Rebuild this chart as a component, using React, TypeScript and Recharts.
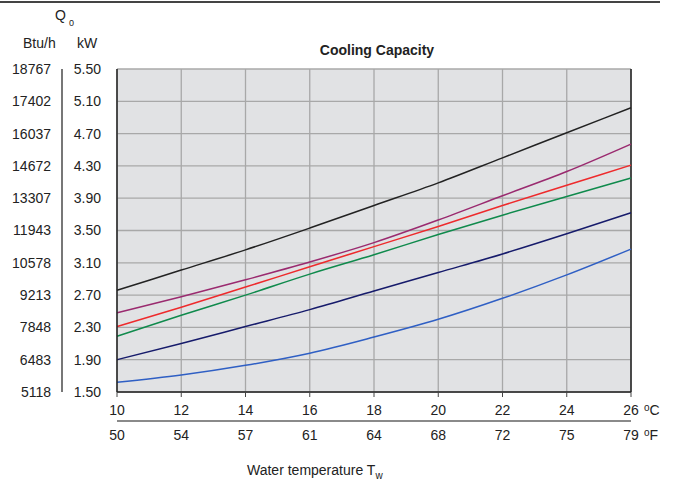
import React from "react"
import {
  LineChart,
  Line,
  XAxis,
  YAxis,
  CartesianGrid,
  ReferenceLine,
} from "recharts"

const tempC = [10, 12, 14, 16, 18, 20, 22, 24, 26]
const tempF = ["50", "54", "57", "61", "64", "68", "72", "75", "79"]
const kwTicks = [1.5, 1.9, 2.3, 2.7, 3.1, 3.5, 3.9, 4.3, 4.7, 5.1, 5.5]
const btuTicks = ["5118", "6483", "7848", "9213", "10578", "11943", "13307", "14672", "16037", "17402", "18767"]

const blackLine = [2.76, 3.01, 3.26, 3.53, 3.81, 4.09, 4.4, 4.71, 5.02]
const purpleLine = [2.48, 2.68, 2.89, 3.11, 3.35, 3.63, 3.93, 4.23, 4.57]
const redLine = [2.31, 2.55, 2.8, 3.05, 3.3, 3.55, 3.81, 4.06, 4.31]
const greenLine = [2.19, 2.45, 2.7, 2.96, 3.2, 3.45, 3.69, 3.92, 4.15]
const navyLine = [1.9, 2.1, 2.31, 2.52, 2.75, 2.98, 3.21, 3.46, 3.72]
const blueLine = [1.62, 1.71, 1.83, 1.98, 2.18, 2.4, 2.66, 2.95, 3.27]

const data = tempC.map((t, i) => ({
  t,
  black: blackLine[i],
  purple: purpleLine[i],
  red: redLine[i],
  green: greenLine[i],
  navy: navyLine[i],
  blue: blueLine[i],
}))

const series = [
  { key: "black", color: "#222222" },
  { key: "purple", color: "#9A2A6F" },
  { key: "red", color: "#EE2A2C" },
  { key: "green", color: "#0F8A4C" },
  { key: "navy", color: "#161B6B" },
  { key: "blue", color: "#2F5FC4" },
]

const font = "'Liberation Sans', Arial, sans-serif"
const tick = { fontSize: 14, fill: "#222", fontFamily: font }

const abs = (left: number, top: number): React.CSSProperties => ({
  position: "absolute",
  left,
  top,
  fontSize: 14,
  lineHeight: 1,
  whiteSpace: "nowrap",
  color: "#222",
})

function Unit({ left, top, letter }: { left: number; top: number; letter: string }) {
  return (
    <div style={abs(left, top)}>
      <span style={{ fontSize: 10, position: "relative", top: -4 }}>o</span>
      {letter}
    </div>
  )
}

function btuLabel(v: number) {
  const i = kwTicks.findIndex((k) => Math.abs(k - v) < 0.001)
  return i >= 0 ? btuTicks[i] : ""
}

// kW label next to the plot, Btu/h label in the outer column
function DualTick(props: any) {
  const { x, y, payload } = props
  const v = Number(payload.value)
  return (
    <g>
      <text x={x} y={y} dy="0.355em" textAnchor="end" {...tick}>
        {v.toFixed(2)}
      </text>
      <text x={x - 50} y={y} dy="0.355em" textAnchor="end" {...tick}>
        {btuLabel(v)}
      </text>
    </g>
  )
}

export default function App() {
  return (
    <div
      style={{
        position: "absolute",
        left: 0,
        top: 0,
        width: 675,
        height: 483,
        background: "#fff",
        fontFamily: font,
      }}
    >
      <div style={{ position: "absolute", left: 0, top: 1, width: 660, height: 2, background: "#444" }} />
      <div style={abs(55, 8)}>
        Q<span style={{ fontSize: 9, position: "relative", top: 6, marginLeft: 3 }}>0</span>
      </div>
      <div style={abs(23, 36)}>Btu/h</div>
      <div style={abs(77, 36)}>kW</div>
      <div style={{ ...abs(277, 43), width: 200, textAlign: "center", fontWeight: "bold" }}>
        Cooling Capacity
      </div>

      <LineChart
        width={675}
        height={483}
        data={data}
        margin={{ top: 69, right: 44, left: 10, bottom: 32 }}
      >
        <CartesianGrid
          xAxisId="c"
          yAxisId="kw"
          stroke="#A8A8A8"
          strokeWidth={1.3}
          fill="#E1E2E4"
        />
        <XAxis
          xAxisId="c"
          dataKey="t"
          type="number"
          domain={[10, 26]}
          ticks={tempC}
          height={29}
          tick={tick}
          tickSize={5}
          tickMargin={8}
          tickLine={{ stroke: "#444" }}
          axisLine={{ stroke: "#222", strokeWidth: 1.5 }}
        />
        <XAxis
          xAxisId="f"
          dataKey="t"
          type="number"
          domain={[10, 26]}
          ticks={tempC}
          tickFormatter={(v) => tempF[tempC.indexOf(Number(v))] ?? ""}
          height={30}
          tick={tick}
          tickSize={0}
          tickMargin={9}
          tickLine={false}
          axisLine={{ stroke: "#8A8A8A", strokeWidth: 2 }}
        />
        <YAxis
          yAxisId="kw"
          type="number"
          domain={[1.5, 5.5]}
          ticks={kwTicks}
          width={107}
          tick={<DualTick />}
          tickSize={0}
          tickMargin={16}
          tickLine={false}
          axisLine={{ stroke: "#222", strokeWidth: 1.5 }}
        />
        <ReferenceLine xAxisId="c" yAxisId="kw" x={26} stroke="#222" strokeWidth={1.5} />
        {series.map((s) => (
          <Line
            key={s.key}
            xAxisId="c"
            yAxisId="kw"
            type="monotone"
            dataKey={s.key}
            stroke={s.color}
            strokeWidth={1.5}
            dot={false}
            isAnimationActive={false}
          />
        ))}
      </LineChart>

      <div style={{ position: "absolute", left: 61, top: 69, width: 1.5, height: 323, background: "#777" }} />
      <Unit left={644} top={403} letter="C" />
      <Unit left={644} top={428} letter="F" />
      <div style={abs(247, 463)}>
        Water temperature T<span style={{ fontSize: 10, position: "relative", top: 4 }}>w</span>
      </div>
    </div>
  )
}
